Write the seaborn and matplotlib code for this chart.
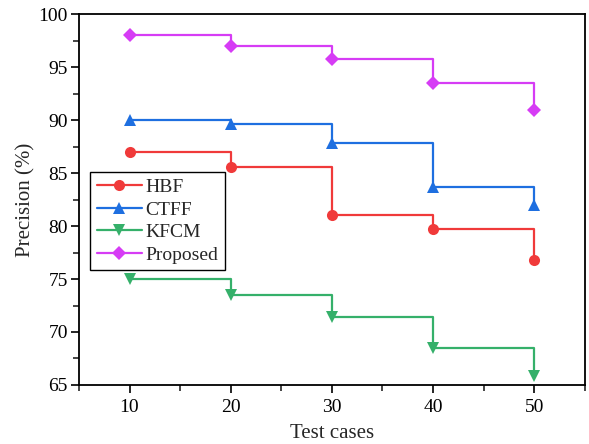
import matplotlib
matplotlib.use("Agg")
import matplotlib.pyplot as plt
from matplotlib.ticker import MultipleLocator
import seaborn as sns
import pandas as pd

# dati
test_cases = [10, 20, 30, 40, 50]
hbf = [87.0, 85.6, 81.0, 79.7, 76.8]
ctff = [90.0, 89.6, 87.8, 83.7, 82.0]
kfcm = [75.0, 73.5, 71.4, 68.5, 65.8]
proposed = [98.0, 97.0, 95.8, 93.5, 91.0]

serie = {"HBF": hbf, "CTFF": ctff, "KFCM": kfcm, "Proposed": proposed}
colori = {"HBF": "#F03A3A", "CTFF": "#1E6FE0", "KFCM": "#35B06A", "Proposed": "#D63CF5"}
marker = {"HBF": "o", "CTFF": "^", "KFCM": "v", "Proposed": "D"}
dimensioni = {"HBF": 8, "CTFF": 9, "KFCM": 9, "Proposed": 7}

sns.set_style("ticks")
plt.rcParams["font.family"] = ["Liberation Serif", "DejaVu Serif"]

fig = plt.figure(figsize=(5.89, 4.44), dpi=100)
ax = fig.add_axes([0.134, 0.133, 0.859, 0.835])

for nome, valori in serie.items():
    df = pd.DataFrame({"x": test_cases, "y": valori})
    sns.lineplot(data=df, x="x", y="y", ax=ax, color=colori[nome], marker=marker[nome],
                 markersize=dimensioni[nome], markeredgewidth=0, linewidth=1.6,
                 drawstyle="steps-post", label=nome)

ax.set_xlim(5, 55)
ax.set_ylim(65, 100)
ax.xaxis.set_major_locator(MultipleLocator(10))
ax.xaxis.set_minor_locator(MultipleLocator(5))
ax.yaxis.set_major_locator(MultipleLocator(5))
ax.yaxis.set_minor_locator(MultipleLocator(2.5))
ax.tick_params(which="major", direction="out", length=6, width=1.2, labelsize=14, colors="black")
ax.tick_params(which="minor", direction="out", length=4, width=1.2)
ax.tick_params(axis="x", pad=4)
ax.tick_params(axis="y", pad=2)
for s in ax.spines.values():
    s.set_linewidth(1.3)
    s.set_color("black")

ax.set_xlabel("Test cases", fontsize=15, labelpad=6)
ax.set_ylabel("Precision (%)", fontsize=15, labelpad=2)

ax.legend(loc="upper left", bbox_to_anchor=(0.022, 0.575), fontsize=14, frameon=True,
          fancybox=False, edgecolor="black", framealpha=1, borderpad=0.35,
          labelspacing=0.25, handlelength=2.3, handletextpad=0.2, borderaxespad=0)

fig.savefig("out.png", dpi=100)
